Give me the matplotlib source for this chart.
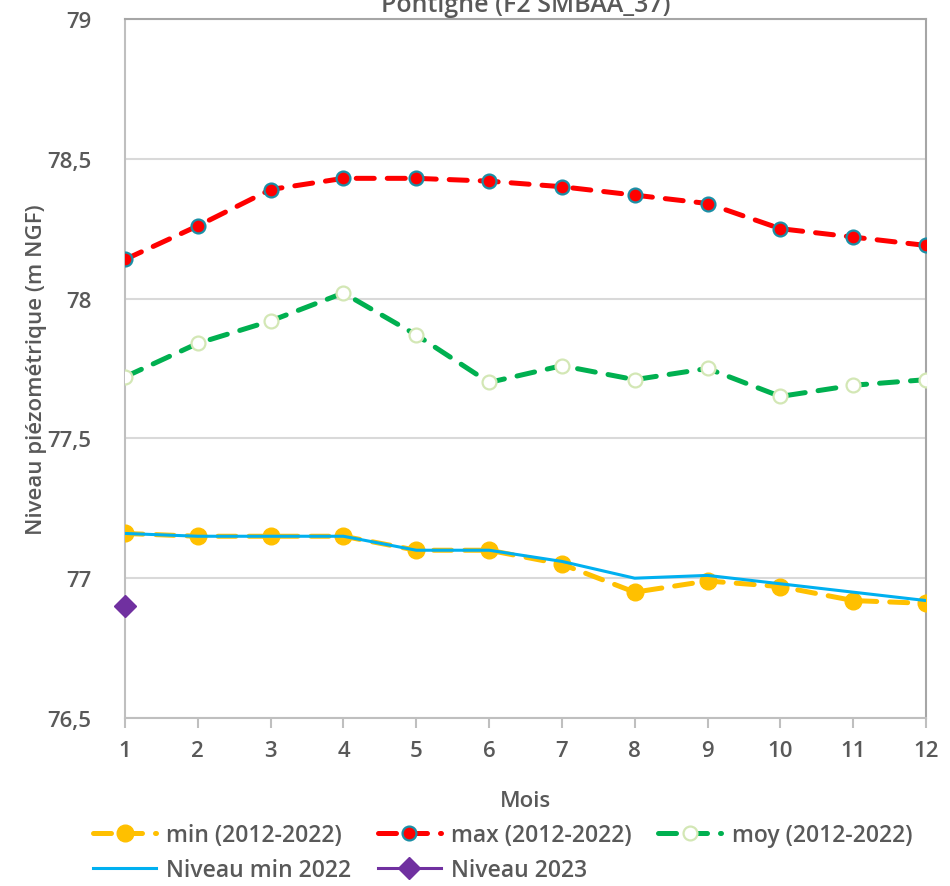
import matplotlib.pyplot as plt

plt.rcParams['font.family'] = ['Open Sans', 'DejaVu Sans']
plt.rcParams['font.weight'] = 'semibold'
plt.rcParams['axes.labelweight'] = 'semibold'
plt.rcParams['axes.titleweight'] = 'semibold'

# Monthly piezometric levels (m NGF)
mois = [1, 2, 3, 4, 5, 6, 7, 8, 9, 10, 11, 12]
niv_min = [77.16, 77.15, 77.15, 77.15, 77.10, 77.10, 77.05, 76.95, 76.99, 76.97, 76.92, 76.91]
niv_max = [78.14, 78.26, 78.39, 78.43, 78.43, 78.42, 78.40, 78.37, 78.34, 78.25, 78.22, 78.19]
niv_moy = [77.72, 77.84, 77.92, 78.02, 77.87, 77.70, 77.76, 77.71, 77.75, 77.65, 77.69, 77.71]
min_2022 = [77.16, 77.15, 77.15, 77.15, 77.10, 77.10, 77.06, 77.00, 77.01, 76.98, 76.95, 76.92]
mois_2023 = [1]
niv_2023 = [76.90]

text_col = '#595959'

fig = plt.figure(figsize=(9.5, 8.87), dpi=100)
ax = fig.add_axes([0.1316, 0.1894, 0.8431, 0.7881])

dash = (3.6, 2.6)
h_min, = ax.plot(mois, niv_min, color='#ffc000', lw=3.6, dashes=dash, dash_capstyle='round',
                 marker='o', ms=12, mfc='#ffc000', mec='#ffc000', label='min (2012-2022)', zorder=3)
h_max, = ax.plot(mois, niv_max, color='#ff0000', lw=3.6, dashes=dash, dash_capstyle='round',
                 marker='o', ms=10, mfc='#ff0000', mec='#1b8fa6', mew=1.6, label='max (2012-2022)', zorder=3)
h_moy, = ax.plot(mois, niv_moy, color='#00b050', lw=3.6, dashes=dash, dash_capstyle='round',
                 marker='o', ms=10, mfc='white', mec='#d3e7b5', mew=1.6, label='moy (2012-2022)', zorder=3)
h_22, = ax.plot(mois, min_2022, color='#00b0f0', lw=2.2, label='Niveau min 2022', zorder=4)
h_23, = ax.plot(mois_2023, niv_2023, color='#7030a0', lw=2.2, marker='D', ms=11,
                label='Niveau 2023', zorder=5, clip_on=False)

ax.set_xlim(1, 12)
ax.set_ylim(76.5, 79)
ax.set_xticks(mois)
ax.set_yticks([76.5, 77, 77.5, 78, 78.5, 79])
ax.set_yticklabels(['76,5', '77', '77,5', '78', '78,5', '79'])
ax.grid(axis='y', color='#d9d9d9', lw=1.5)
ax.set_axisbelow(True)

for side in ['left', 'bottom']:
    ax.spines[side].set_color('#bfbfbf')
    ax.spines[side].set_linewidth(1.5)
for side in ['top', 'right']:
    ax.spines[side].set_color('#a6a6a6')
    ax.spines[side].set_linewidth(1.5)

ax.tick_params(axis='x', colors='#bfbfbf', labelcolor=text_col, labelsize=16,
               length=7, width=1.5, pad=9)
ax.tick_params(axis='y', length=0, labelcolor=text_col, labelsize=16, pad=24)

ax.set_xlabel('Mois', fontsize=16, color=text_col, labelpad=21)
ax.set_ylabel('Niveau piézométrique (m NGF)', fontsize=16, color=text_col, labelpad=0)
ax.set_title('Pontigné (F2 SMBAA_37)', fontsize=18, color=text_col, pad=6)

# column-wise fill so rows read: min, max, moy / min 2022, 2023
handles = [h_min, h_22, h_max, h_23, h_moy]
labels = [h.get_label() for h in handles]
leg = fig.legend(handles, labels, loc='lower left', bbox_to_anchor=(0.098, 0.004), ncol=3,
                 frameon=False, fontsize=16.5, handlelength=2.75, columnspacing=1.15,
                 handletextpad=0.45, labelspacing=0.5, borderpad=0, borderaxespad=0)
for t in leg.get_texts():
    t.set_color(text_col)

fig.savefig('out.png', dpi=100)
